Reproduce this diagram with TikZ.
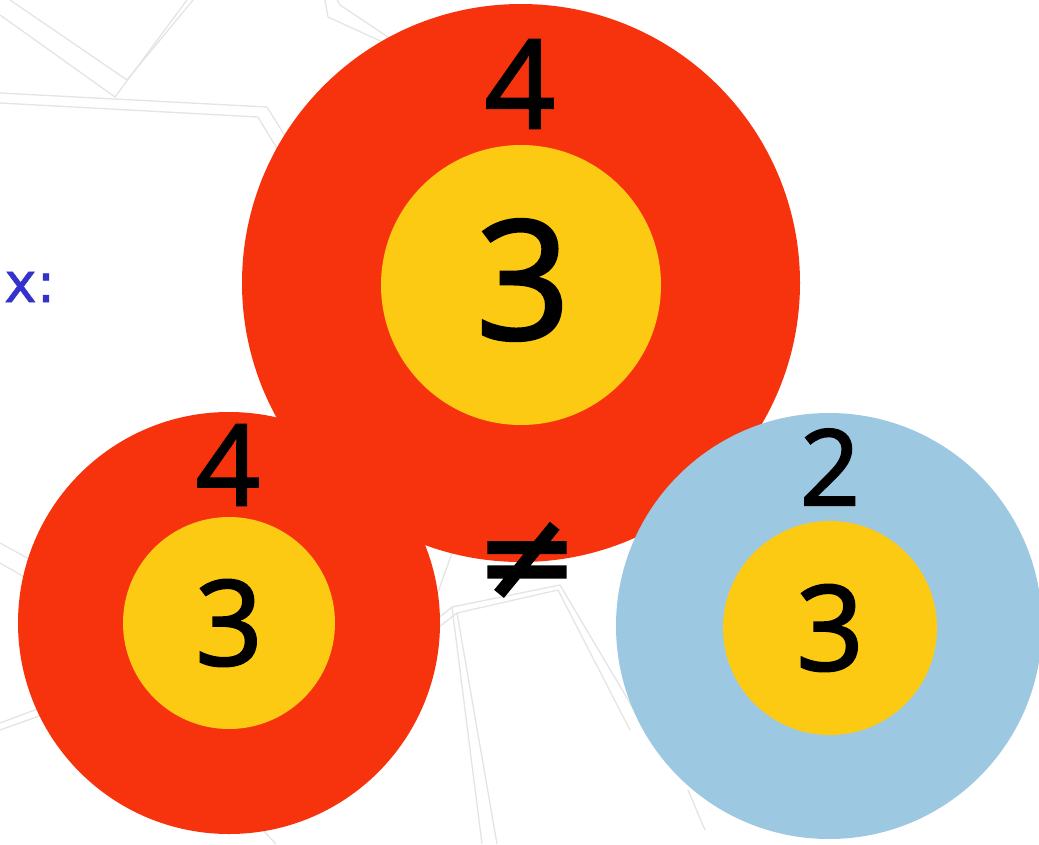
\documentclass[tikz,border=0pt]{standalone}
\usepackage{fontspec}
\setmainfont{Open Sans}
\newfontfamily\dig{Open Sans}[FakeBold=2]
\newfontfamily\djv{DejaVu Sans}[FakeBold=1]
\newfontfamily\djvb{DejaVu Sans}[FakeBold=2.5]
\definecolor{cred}{HTML}{F7330E}
\definecolor{cyel}{HTML}{FCCA12}
\definecolor{cblue}{HTML}{9DC8E1}
\definecolor{ctext}{HTML}{3333CC}
\definecolor{cline}{HTML}{E4E4E4}
\begin{document}
\begin{tikzpicture}[x=1pt,y=-1pt,
  bgline/.style={draw=cline, line width=1.3pt},
  disc/.style={circle, inner sep=0pt, outer sep=0pt, draw=none},
  num/.style={inner sep=0pt, outer sep=0pt, text=black}]
\useasboundingbox (0,0) rectangle (1039,844);
\clip (0,0) rectangle (1039,844);
% faint background pattern
\draw[bgline] (10,0) -- (127,80) -- (193,0);
\draw[bgline] (0,15) -- (115,97) -- (187,0);
\draw[bgline] (0,93) -- (267,107) -- (300,160);
\draw[bgline] (0,103) -- (258,117) -- (290,170);
\draw[bgline] (325,0) -- (328,17) -- (400,50);
\draw[bgline] (337,0) -- (340,5) -- (400,45);
\draw[bgline] (430,625) -- (452,607) -- (482,844);
\draw[bgline] (435,630) -- (457,613) -- (497,844);
\draw[bgline] (452,607) -- (560,585) -- (640,720);
\draw[bgline] (457,613) -- (558,590) -- (630,730);
\draw[bgline] (452,553) -- (438,592);
\draw[bgline] (0,543) -- (40,565);
\draw[bgline] (0,563) -- (35,583);
\draw[bgline] (0,723) -- (40,708);
\draw[bgline] (0,730) -- (42,715);
\draw[bgline] (263,830) -- (276,844);
\draw[bgline] (688,790) -- (705,830);
% label
\node[anchor=base west, inner sep=0pt, text=ctext, font=\djv\fontsize{55}{55}\selectfont] (lbl) at (4,302) {x:};
% big circle
\node[disc, fill=cred, minimum size=558pt] (big) at (521,283) {};
\node[disc, fill=cyel, minimum size=280pt] (bigin) at (521,285) {};
\node[num, font=\dig\fontsize{123}{123}\selectfont] (big4) at (520,84) {4};
\node[num, font=\dig\fontsize{165}{165}\selectfont] (big3) at (523,280) {3};
% left circle
\node[disc, fill=cred, minimum size=422pt] (left) at (229,623) {};
\node[disc, fill=cyel, minimum size=212pt] (leftin) at (229,623) {};
\node[num, font=\dig\fontsize{112}{112}\selectfont] (left4) at (228,465) {4};
\node[num, font=\dig\fontsize{118}{118}\selectfont] (left3) at (229,623) {3};
% right circle
\node[disc, fill=cblue, minimum size=426pt] (right) at (829,626) {};
\node[disc, fill=cyel, minimum size=214pt] (rightin) at (830,628) {};
\node[num, font=\dig\fontsize{105}{105}\selectfont] (right2) at (830,467) {2};
\node[num, font=\dig\fontsize{118}{118}\selectfont] (right3) at (830,628) {3};
% not equal
\node[num, font=\djvb\fontsize{122}{122}\selectfont] (neq) at (527,561) {≠};
\end{tikzpicture}
\end{document}
